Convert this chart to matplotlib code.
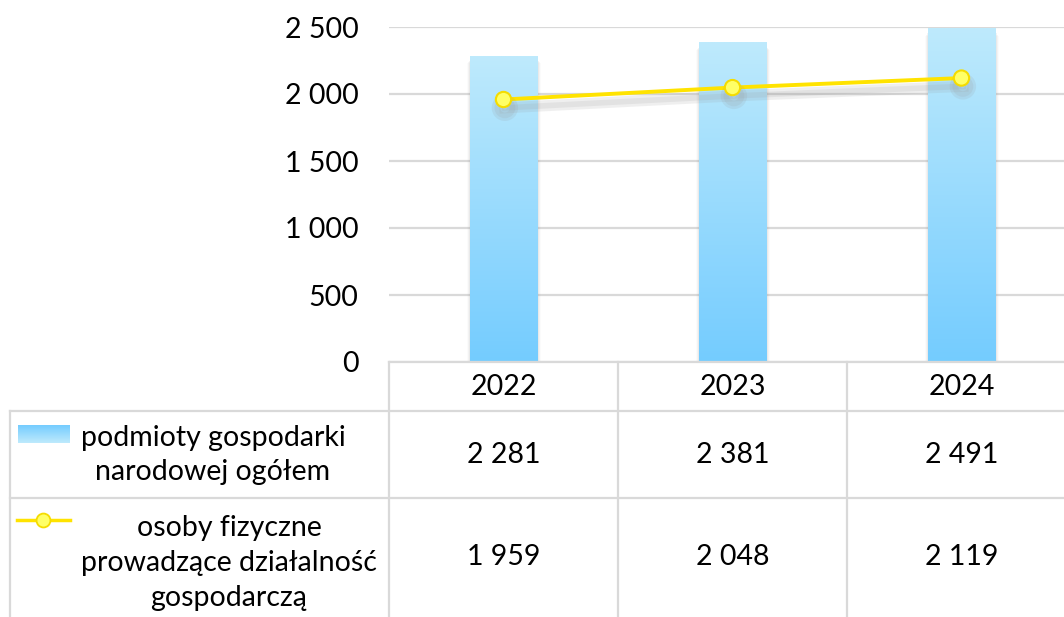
import matplotlib
matplotlib.use("Agg")
import matplotlib.pyplot as plt
import numpy as np
from matplotlib import patheffects as pe
from matplotlib.colors import LinearSegmentedColormap

years = ["2022", "2023", "2024"]
bar_label = "podmioty gospodarki\nnarodowej ogółem"
line_label = "osoby fizyczne\nprowadzące działalność\ngospodarczą"
bar_values = [2281, 2381, 2491]
line_values = [1959, 2048, 2119]
yticks = [0, 500, 1000, 1500, 2000, 2500]

FONT = ["Lato", "DejaVu Sans"]
plt.rcParams["font.family"] = FONT
FS = 20.5

W, H = 1064, 617
fig = plt.figure(figsize=(W / 100, H / 100), dpi=100)

def fx(px):
    return px / W

def fy(py):
    return 1 - py / H

grid_c = "#d9d9d9"
x0_px, x1_px = 389, 1076
y0_px, y1_px = 362, 27

ax = fig.add_axes([fx(x0_px), fy(y0_px), fx(x1_px - x0_px), (y0_px - y1_px) / H])
ax.set_xlim(-0.5, 2.5)
ax.set_ylim(0, 2500)
for s in ax.spines.values():
    s.set_visible(False)
ax.set_yticks(yticks)
ax.set_yticklabels([f"{v:,}".replace(",", " ") for v in yticks], fontsize=FS)
ax.tick_params(axis="y", length=0, pad=22)
ax.set_xticks([])
ax.grid(axis="y", color=grid_c, linewidth=1.6)
ax.set_axisbelow(True)
ax.patch.set_alpha(0)

cmap = LinearSegmentedColormap.from_list("blu", ["#74CCFF", "#BEEAFC"])
x = np.arange(len(years))
bars = ax.bar(x, bar_values, width=0.295, color="none", zorder=2)
grad = np.linspace(0, 1, 256).reshape(-1, 1)
for b in bars:
    bx, by = b.get_x(), b.get_y()
    bw, bh = b.get_width(), b.get_height()
    for k, a in enumerate([0.10, 0.07, 0.04]):
        d = 0.004 * (k + 1)
        ax.add_patch(plt.Rectangle((bx - d, 0), bw + 2 * d + 0.004, bh * (0.985 - 0.004 * k),
                                   color="#999999", alpha=a, zorder=1.9, lw=0))
    ax.imshow(grad, extent=[bx, bx + bw, by, by + bh], origin="lower",
              cmap=cmap, aspect="auto", zorder=2.1)
ax.set_xlim(-0.5, 2.5)
ax.set_ylim(0, 2500)

ax.plot(x, line_values, color="#FFE300", linewidth=2.8, marker="o", markersize=11,
        markerfacecolor="#FFFF66", markeredgecolor="#F5DC00", markeredgewidth=1.5, zorder=4,
        path_effects=[pe.SimpleLineShadow(offset=(1, -6), shadow_color="#999999", alpha=0.15, linewidth=8),
                      pe.SimpleLineShadow(offset=(1, -6), shadow_color="#999999", alpha=0.15, linewidth=4),
                      pe.Normal()])

# table
tab = fig.add_axes([0, 0, 1, 1])
tab.set_xlim(0, W)
tab.set_ylim(H, 0)
tab.axis("off")
col_edges = [389, 618, 847, 1076]
row_edges = [362, 411, 498, 640]
lw = 1.6
for cx in col_edges:
    tab.plot([cx, cx], [row_edges[0], H + 5], color=grid_c, lw=lw)
tab.plot([10, 10], [row_edges[1], H + 5], color=grid_c, lw=lw)
for ry in row_edges[1:3]:
    tab.plot([10, W], [ry, ry], color=grid_c, lw=lw)
tab.plot([x0_px, W], [row_edges[0], row_edges[0]], color=grid_c, lw=lw)

centers = [(col_edges[i] + col_edges[i + 1]) / 2 for i in range(3)]
for i, yr in enumerate(years):
    tab.text(centers[i], 387, yr, ha="center", va="center", fontsize=FS)
for i, v in enumerate(bar_values):
    tab.text(centers[i], 455, f"{v:,}".replace(",", " "), ha="center", va="center", fontsize=FS)
for i, v in enumerate(line_values):
    tab.text(centers[i], 557, f"{v:,}".replace(",", " "), ha="center", va="center", fontsize=FS)

# legend keys
key = np.linspace(0, 1, 64).reshape(-1, 1)
tab.imshow(key, extent=[18, 70, 443, 425], origin="upper", cmap=cmap, aspect="auto", zorder=3)
tab.set_xlim(0, W)
tab.set_ylim(H, 0)
tab.text(213, 455, bar_label, ha="center", va="center", fontsize=FS, linespacing=1.42)
tab.plot([17, 70], [520, 520], color="#FFE300", lw=2.5)
tab.plot([43], [520], marker="o", markersize=10, markerfacecolor="#FFFF66",
         markeredgecolor="#F5DC00", markeredgewidth=1.3)
tab.text(229, 563, line_label, ha="center", va="center", fontsize=FS, linespacing=1.42)

fig.savefig("out.png", dpi=100)
